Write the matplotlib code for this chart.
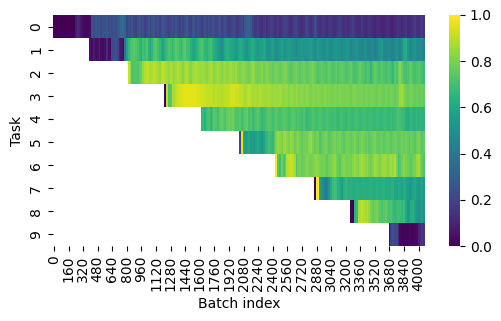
import numpy as np
import matplotlib
matplotlib.use("Agg")
import matplotlib.pyplot as plt
import seaborn as sns

n_columns = 204
batch_step = 20
task_starts = [0, 20, 41, 61, 81, 102, 122, 143, 163, 184]

task_0 = [0,0,0,0,0,0,0,0,0,0,0,0, 8,12,10,6,3,2,2,2,3,
 25,22,27,24,28,22,26,24,27,23,25,22,26,24,28,30,34,36,30,20,
 24,20,26,22,18,24,26,20,23,18,22,26,20,24,27,21,25,19,23,28,
 24,20,18,22,25,21,26,22,18,23,20,24,28,21,19,23,26,20,24,22,
 18,22,25,20,24,21,26,23,19,22,25,18,21,24,20,17,19,21,23,18,
 16,20,22,18,26,30,32,28,20,15,17,19,15,14,16,18,14,16,19,17,
 14,15,17,14,16,18,20,18,15,14,16,19,21,17,14,13,15,18,20,17,
 14,16,24,22,15,13,15,17,14,13,15,16,14,13,15,17,19,15,13,15,
 12,14,16,18,15,13,12,14,16,13,11,13,15,14,12,10,12,14,11,10,
 10,12,14,12,10,9,11,14,16,13,11,13,15,12,10,13,15,18,14,13,15,17,14]
task_1 = [4,3,8,3,4,9,3,2,4,12,4,3,22,24,25,20,10,6,4,
 40,58,66,70,72,74,72,70,66,62,
 70,68,72,64,60,66,72,74,70,66,62,58,64,68,72,70,66,70,74,72,
 70,66,72,74,70,68,64,60,58,62,66,70,72,68,66,64,68,70,66,62,
 60,56,52,48,54,60,64,62,60,58,56,54,58,62,60,58,54,52,56,60,
 62,58,56,54,56,58,60,56,52,50,54,56,52,48,50,54,56,52,50,54,
 56,54,52,50,48,50,52,54,52,50,52,54,56,52,48,50,54,52,50,48,
 52,54,50,48,50,52,54,52,50,48,50,52,54,50,46,48,50,52,50,48,
 46,48,50,46,44,46,48,44,46,50,52,54,48,46,48,50,46,44,48,50,
 46,44,50,60,62,54,48,46,50,52,48,46,50,48,42]
task_2 = [92,84,72,72,74,72,76,78,84,88,90,88,86,88,90,88,86,84,88,90,
 88,86,84,88,86,84,86,88,86,84,82,86,88,84,82,84,86,88,86,84,
 85,86,84,83,85,87,85,83,84,86,84,82,84,85,83,84,86,84,83,85,
 82,80,82,84,82,80,78,82,84,82,80,78,80,82,78,80,82,80,78,76,
 78,80,78,76,78,80,82,78,76,74,76,78,80,76,74,76,78,76,74,76,
 78,80,76,74,72,74,76,74,72,74,76,74,72,74,76,72,74,76,74,72,
 72,74,76,72,70,72,74,76,74,72,70,74,72,66,72,76,74,70,72,74,
 72,70,72,74,70,66,74,72,78,82,76,72,70,72,74,76,72,70,72,74,72,70,68]
task_3 = [0,90,72,74,88,86,90,92,94,94,
 95,96,96,96,96,95,96,95,94,94,93,92,92,90,91,90,90,89,90,89,
 89,88,89,90,90,91,93,93,93,92,92,91,90,88,86,88,90,88,86,88,
 87,86,88,87,86,85,86,87,85,84,86,85,84,86,84,83,85,84,82,84,
 83,82,84,82,81,83,82,81,83,81,80,82,81,80,82,81,80,81,82,80,
 81,80,79,81,80,79,81,80,79,80,81,79,78,80,81,79,78,80,79,78,
 80,79,78,80,79,78,77,79,80,78,77,79,78,77,79,78,76,78,80,84,
 86,82,78,76,78,80,78,76,78,77,76,78,76]
task_4 = [66,68,64,70,72,66,70,74,72,70,74,76,74,72,76,78,76,78,74,72,
 72,74,70,72,74,76,70,72,68,70,72,74,70,66,68,70,72,74,72,70,
 72,74,72,70,72,74,73,72,70,72,74,72,70,72,71,70,72,68,67,68,
 70,72,70,68,70,72,70,68,70,72,70,68,69,70,68,67,69,70,68,67,
 68,70,68,67,69,70,68,67,68,70,69,67,68,69,67,66,68,69,67,66,
 68,69,67,66,68,67,68,70,72,70,68,67,64,62,64,66,64,64,65,64,66,64,64]
task_5 = [20,96,60,54,56,60,54,56,52,58,60,56,54,58,64,66,70,68,66,72,
 80,84,82,80,84,86,82,80,84,82,78,80,82,78,76,78,80,78,82,84,
 80,76,78,80,72,76,78,80,78,74,76,78,80,76,78,80,76,74,78,80,
 78,76,78,80,76,74,78,80,78,76,78,74,76,78,80,76,74,76,78,74,
 76,78,76,74,76,78,76,74,76,78,76,78,76,74,78,76,74,78,80,76,74,76]
task_6 = [100,74,70,78,72,76,88,90,92,90,86,72,78,80,76,78,80,82,80,78,
 80,82,84,82,80,78,80,76,74,78,80,82,84,80,76,74,80,82,80,78,
 80,78,82,84,82,80,84,86,84,82,84,80,78,82,86,84,82,80,84,86,
 84,82,84,86,84,88,80,70,74,78,82,80,78,76,74,78,80,84,86,80,76,72]
task_7 = [0,100,100,56,50,46,40,44,52,62,68,70,68,64,60,56,62,66,64,62,
 64,62,62,64,62,62,63,64,62,62,63,64,62,62,64,62,62,63,64,62,
 62,60,62,64,60,58,62,60,58,62,60,56,52,54,58,60,56,54,56,58,54]
task_8 = [0,0,64,68,86,88,90,88,86,88,84,80,76,78,80,76,74,72,74,76,
 72,70,72,68,66,68,70,68,66,68,60,52,56,62,64,58,52,50,54,56,50]
task_9 = [2,20,24,20,22,12,2,1,1,1,1,3,1,1,2,3,10,14,16,14]

series = [task_0, task_1, task_2, task_3, task_4,
          task_5, task_6, task_7, task_8, task_9]

data = np.full((len(series), n_columns), np.nan)
for row, (start, vals) in enumerate(zip(task_starts, series)):
    vals = np.asarray(vals[:n_columns - start], dtype=float) / 100
    data[row, start:start + len(vals)] = vals

batch_labels = [i * batch_step for i in range(n_columns)]

W, H = 501, 321
fig = plt.figure(figsize=(W / 100, H / 100), dpi=100)
ax = fig.add_axes([53 / W, 1 - 246 / H, (425 - 53) / W, (246 - 15) / H])
cax = fig.add_axes([449 / W, 1 - 246 / H, 11 / W, (246 - 15) / H])

sns.heatmap(data, ax=ax, cbar_ax=cax, cmap="viridis", vmin=0, vmax=1,
            xticklabels=batch_labels, yticklabels=list(range(len(series))))
ax.set_xticks(np.arange(0, n_columns, 8) + 0.5)
ax.set_xticklabels(batch_labels[::8], rotation=90)
ax.set_yticklabels(range(len(series)), rotation=90, va="center")
ax.set_xlabel("Batch index", labelpad=4)
ax.set_ylabel("Task")
fig.savefig("out.png", dpi=100)
